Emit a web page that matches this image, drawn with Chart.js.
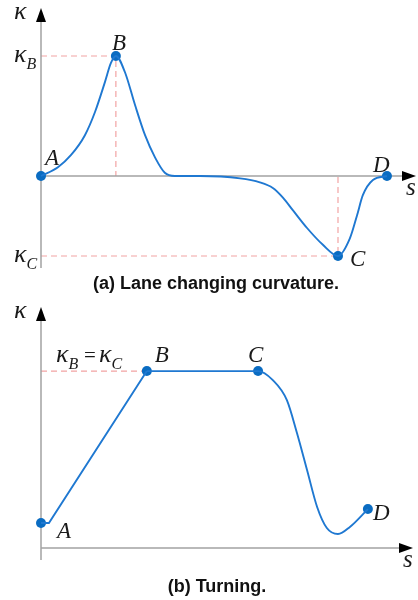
<!DOCTYPE html>
<html>
<head>
<meta charset="utf-8">
<script src="https://cdn.jsdelivr.net/npm/chart.js@4"></script>
<style>
  body { margin: 0; background: #fff; }
  #wrap { position: relative; width: 418px; height: 600px; }
  canvas { position: absolute; left: 0; }
  .cap { position: absolute; width: 418px; text-align: center; color: #111;
         font: bold 18px "Liberation Sans", Arial, sans-serif; line-height: 20px; }
</style>
</head>
<body>
<div id="wrap">
  <canvas id="lane" width="418" height="300" style="top:0"></canvas>
  <div class="cap" style="top:273px;left:7px">(a) Lane changing curvature.</div>
  <canvas id="turn" width="418" height="300" style="top:300px"></canvas>
  <div class="cap" style="top:576px;left:8px">(b) Turning.</div>
</div>
<script>
// lane change: curvature along the path
const laneS = [0, 0.47, 0.83, 1.22, 1.5, 1.78, 1.94, 2.08, 2.33, 2.61, 2.89, 3.17, 3.44, 3.72, 4.42, 5.53, 6.08, 6.44, 6.72, 7.0, 7.39, 7.83, 8.25, 8.58, 8.78, 8.94, 9.22, 9.61];
const laneK = [0, 0.11, 0.26, 0.51, 0.8, 1.18, 1.41, 1.5, 1.3, 0.89, 0.51, 0.23, 0.04, 0, 0, -0.03, -0.08, -0.15, -0.27, -0.43, -0.65, -0.86, -1.0, -0.78, -0.49, -0.24, -0.05, 0];
const lanePtS = [0, 2.08, 8.25, 9.61];
const lanePtK = [0, 1.5, -1.0, 0];

// turning: straight ramp up to B, then smooth drop after C
const turnRampS = [0, 0.22, 2.94];
const turnRampK = [0.141, 0.141, 1.0];
const turnCurveS = [2.94, 6.03, 6.44, 6.83, 7.11, 7.39, 7.67, 7.94, 8.25, 8.58, 9.08];
const turnCurveK = [1.0, 1.0, 0.949, 0.836, 0.65, 0.441, 0.232, 0.113, 0.079, 0.119, 0.22];
const turnPtS = [0, 2.94, 6.03, 9.08];
const turnPtK = [0.141, 1.0, 1.0, 0.22];

const ptNames = ['A', 'B', 'C', 'D'];

const LINE = '#1f78d1';
const DOT = '#0a6cc2';
const GUIDE = '#f2a3a3';
const SERIF = '"Liberation Serif", "Times New Roman", serif';

function pts(xs, ys) {
  return xs.map((x, i) => ({ x: x, y: ys[i] }));
}

function arrow(ctx, tipX, tipY, dir) {
  // dir: 'up' or 'right'
  ctx.beginPath();
  if (dir === 'up') {
    ctx.moveTo(tipX, tipY);
    ctx.lineTo(tipX - 5, tipY + 14);
    ctx.lineTo(tipX + 5, tipY + 14);
  } else {
    ctx.moveTo(tipX, tipY);
    ctx.lineTo(tipX - 14, tipY - 5);
    ctx.lineTo(tipX - 14, tipY + 5);
  }
  ctx.closePath();
  ctx.fill();
}

function kappa(ctx, x, base, sub) {
  ctx.font = 'italic 26px ' + SERIF;
  ctx.fillText('κ', x, base);
  if (sub) {
    const w = ctx.measureText('κ').width;
    ctx.font = 'italic 16px ' + SERIF;
    ctx.fillText(sub, x + w, base + 7);
  }
}

const sketchAxes = {
  id: 'sketchAxes',
  beforeDatasetsDraw(chart, args, o) {
    const ctx = chart.ctx;
    const xs = chart.scales.x, ys = chart.scales.y;
    const ox = xs.getPixelForValue(0), oy = ys.getPixelForValue(0);
    ctx.save();

    // dashed guides to the marked points
    ctx.strokeStyle = GUIDE;
    ctx.lineWidth = 1.2;
    ctx.setLineDash([6, 4]);
    o.guides.forEach(i => {
      const px = xs.getPixelForValue(o.ptS[i]);
      const py = ys.getPixelForValue(o.ptK[i]);
      ctx.beginPath();
      ctx.moveTo(ox, py);
      ctx.lineTo(px, py);
      if (o.drop) ctx.lineTo(px, oy);
      ctx.stroke();
    });
    ctx.setLineDash([]);

    // axes
    ctx.strokeStyle = '#a3a3a3';
    ctx.lineWidth = 1.5;
    ctx.beginPath();
    ctx.moveTo(ox, o.yTip + 12);
    ctx.lineTo(ox, o.yBottom);
    ctx.moveTo(ox, oy);
    ctx.lineTo(o.xTip - 12, oy);
    ctx.stroke();
    ctx.fillStyle = '#000';
    arrow(ctx, ox, o.yTip, 'up');
    arrow(ctx, o.xTip, oy, 'right');
    ctx.restore();
  },
  afterDatasetsDraw(chart, args, o) {
    const ctx = chart.ctx;
    const xs = chart.scales.x, ys = chart.scales.y;
    const ox = xs.getPixelForValue(0), oy = ys.getPixelForValue(0);
    ctx.save();
    ctx.fillStyle = '#1a1a1a';
    ctx.textAlign = 'left';
    ctx.textBaseline = 'alphabetic';

    // point names
    ctx.font = 'italic 23px ' + SERIF;
    ptNames.forEach((name, i) => {
      const px = xs.getPixelForValue(o.ptS[i]);
      const py = ys.getPixelForValue(o.ptK[i]);
      ctx.fillText(name, px + o.nameOff[i][0], py + o.nameOff[i][1]);
    });

    // axis titles
    kappa(ctx, ox - 27, o.yTip + 11, null);
    ctx.font = 'italic 25px ' + SERIF;
    ctx.fillText('s', o.xTip - 10, oy + 19);

    // curvature levels
    if (o.levels) {
      o.levels.forEach(i => {
        kappa(ctx, ox - 27, ys.getPixelForValue(o.ptK[i]) + 6, ptNames[i]);
      });
    }
    if (o.equalLabel) {
      const base = ys.getPixelForValue(o.ptK[1]) - 9;
      kappa(ctx, ox + 15, base, 'B');
      ctx.font = '21px ' + SERIF;
      ctx.fillText('=', ox + 43, base);
      kappa(ctx, ox + 58, base, 'C');
    }
    ctx.restore();
  }
};

function makeChart(id, datasets, yMin, yMax, pad, axisOpts) {
  return new Chart(document.getElementById(id), {
    type: 'scatter',
    data: { datasets: datasets },
    options: {
      responsive: false,
      devicePixelRatio: 1,
      animation: false,
      events: [],
      layout: { padding: pad },
      scales: {
        x: { type: 'linear', display: false, min: 0, max: 10 },
        y: { type: 'linear', display: false, min: yMin, max: yMax }
      },
      plugins: {
        legend: { display: false },
        tooltip: { enabled: false },
        sketchAxes: axisOpts
      }
    },
    plugins: [sketchAxes]
  });
}

function curve(xs, ys, mode) {
  return {
    data: pts(xs, ys),
    showLine: true,
    borderColor: LINE,
    borderWidth: 1.9,
    pointRadius: 0,
    cubicInterpolationMode: mode,
    tension: 0,
    clip: false
  };
}

function marks(xs, ys) {
  return {
    data: pts(xs, ys),
    pointRadius: 5,
    pointBackgroundColor: DOT,
    pointBorderWidth: 0,
    clip: false
  };
}

const lane_chart = makeChart('lane',
  [curve(laneS, laneK, 'monotone'), marks(lanePtS, lanePtK)],
  -1.2, 2.0,
  { left: 41, right: 17, top: 16, bottom: 28 },
  {
    ptS: lanePtS, ptK: lanePtK,
    guides: [1, 2], drop: true,
    levels: [1, 2],
    yTip: 8, yBottom: 268, xTip: 416,
    nameOff: [[4, -11], [-4, -6], [12, 10], [-14, -4]]
  });

const turn_chart = makeChart('turn',
  [curve(turnRampS, turnRampK, 'default'), curve(turnCurveS, turnCurveK, 'monotone'), marks(turnPtS, turnPtK)],
  0, 1.3,
  { left: 41, right: 17, top: 18, bottom: 52 },
  {
    ptS: turnPtS, ptK: turnPtK,
    guides: [1], drop: false,
    equalLabel: true,
    yTip: 7, yBottom: 260, xTip: 413,
    nameOff: [[16, 15], [8, -9], [-10, -9], [5, 11]]
  });
</script>
</body>
</html>
